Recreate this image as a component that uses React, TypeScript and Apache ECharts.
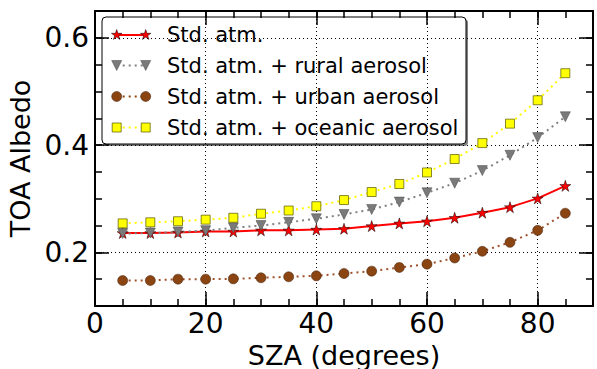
import React, { useEffect, useRef } from "react";
import * as echarts from "echarts";

const xValues = [5, 10, 15, 20, 25, 30, 35, 40, 45, 50, 55, 60, 65, 70, 75, 80, 85];
const stdAtm = [0.236, 0.236, 0.237, 0.239, 0.239, 0.241, 0.241, 0.2425, 0.244, 0.249, 0.254, 0.258, 0.2645, 0.274, 0.2843, 0.3006, 0.324];
const rural = [0.235, 0.236, 0.238, 0.2405, 0.2457, 0.25, 0.256, 0.2626, 0.2707, 0.28, 0.2937, 0.311, 0.329, 0.3524, 0.381, 0.414, 0.4528];
const urban = [0.1475, 0.1475, 0.15, 0.15, 0.1507, 0.1526, 0.1545, 0.1563, 0.1606, 0.165, 0.1719, 0.178, 0.1895, 0.202, 0.2187, 0.241, 0.273];
const oceanic = [0.254, 0.256, 0.258, 0.261, 0.2645, 0.272, 0.278, 0.286, 0.2975, 0.3125, 0.3275, 0.349, 0.374, 0.4037, 0.44, 0.4836, 0.534];
const seriesNames = [
  "Std. atm.",
  "Std. atm. + rural aerosol",
  "Std. atm. + urban aerosol",
  "Std. atm. + oceanic aerosol",
];
const xTickLabels = [0, 20, 40, 60, 80];
const xMajorTicks = [20, 40, 60, 80];
const yTickLabels = [0.2, 0.4, 0.6];

const FONT = "DejaVu Sans";
const STAR =
  "path://M0,-10L2.245,-3.09L9.511,-3.09L3.633,1.18L5.878,8.09L0,3.82L-5.878,8.09L-3.633,1.18L-9.511,-3.09L-2.245,-3.09Z";

const AX = { color: "#000", width: 2 };
const TICK = { color: "#000", width: 1.5 };
const GRID_LINE = { color: "#000", width: 1, type: [1, 3] as any };

function starPoints(cx: number, cy: number, r: number) {
  const pts: number[][] = [];
  for (let i = 0; i < 10; i++) {
    const ang = ((-90 + i * 36) * Math.PI) / 180;
    const rr = i % 2 === 0 ? r : r * 0.382;
    pts.push([cx + rr * Math.cos(ang), cy + rr * Math.sin(ang)]);
  }
  return pts;
}

export default function App() {
  const ref = useRef<HTMLDivElement>(null);
  useEffect(() => {
    if (!ref.current) return;
    const chart = echarts.init(ref.current, null, { renderer: "svg" });

    const minorX = (position: string) => ({
      type: "value",
      position,
      min: 0,
      max: 90,
      interval: 5,
      axisLine: { show: true, onZero: false, lineStyle: AX },
      axisTick: { show: true, inside: true, length: 7, lineStyle: TICK },
      axisLabel: { show: false },
      splitLine: { show: false },
    });
    const majorX = (position: string, labels: boolean) => ({
      type: "value",
      position,
      min: 0,
      max: 90,
      axisLine: { show: false, onZero: false },
      axisTick: { show: true, inside: true, length: 14, customValues: xMajorTicks, lineStyle: TICK },
      axisLabel: labels
        ? {
            show: true,
            customValues: xTickLabels,
            fontSize: 28,
            fontFamily: FONT,
            color: "#000",
            margin: 3,
            formatter: (v: number) => String(Math.round(v)),
          }
        : { show: false },
      splitLine: labels ? { show: true, lineStyle: GRID_LINE } : { show: false },
      name: labels ? "SZA (degrees)" : "",
      nameLocation: "middle",
      nameGap: 27,
      nameTextStyle: { fontSize: 27, fontFamily: FONT, color: "#000", lineHeight: 27 },
    });
    const minorY = (position: string) => ({
      type: "value",
      position,
      min: 0.1,
      max: 0.65,
      interval: 0.05,
      axisLine: { show: true, onZero: false, lineStyle: AX },
      axisTick: { show: true, inside: true, length: 7, lineStyle: TICK },
      axisLabel: { show: false },
      splitLine: { show: false },
    });
    const majorY = (position: string, labels: boolean) => ({
      type: "value",
      position,
      min: 0.1,
      max: 0.65,
      axisLine: { show: false, onZero: false },
      axisTick: { show: true, inside: true, length: 14, customValues: yTickLabels, lineStyle: TICK },
      axisLabel: labels
        ? {
            show: true,
            customValues: yTickLabels,
            fontSize: 28,
            fontFamily: FONT,
            color: "#000",
            margin: 6,
            formatter: (v: number) => v.toFixed(1),
          }
        : { show: false },
      splitLine: labels ? { show: true, lineStyle: GRID_LINE } : { show: false },
      name: labels ? "TOA Albedo" : "",
      nameLocation: "middle",
      nameGap: 55,
      nameRotate: 90,
      nameTextStyle: { fontSize: 27, fontFamily: FONT, color: "#000" },
    });

    const pairs = (ys: number[]) => xValues.map((x, i) => [x, ys[i]]);
    const dotted = [2, 4];

    const legendRows = [35, 65.5, 96.5, 127.5];
    const lx1 = 116.7;
    const lx2 = 145.7;
    const legendChildren: any[] = [
      { type: "rect", shape: { x: 104, y: 19, width: 364, height: 127, r: 4 }, style: { fill: "#808080" } },
      {
        type: "rect",
        shape: { x: 102, y: 17, width: 364, height: 127, r: 4 },
        style: { fill: "#fff", stroke: "#000", lineWidth: 1 },
      },
    ];
    legendChildren.push({
      type: "line",
      shape: { x1: lx1, y1: legendRows[0], x2: lx2, y2: legendRows[0] },
      style: { stroke: "#ff0000", lineWidth: 2 },
    });
    [lx1, lx2].forEach((cx) =>
      legendChildren.push({
        type: "polygon",
        shape: { points: starPoints(cx, legendRows[0], 5.5) },
        style: { fill: "#ff0000", stroke: "#000", lineWidth: 0.5 },
      })
    );
    legendChildren.push({
      type: "line",
      shape: { x1: lx1, y1: legendRows[1], x2: lx2, y2: legendRows[1] },
      style: { stroke: "#808080", lineWidth: 2, lineDash: dotted },
    });
    [lx1, lx2].forEach((cx) =>
      legendChildren.push({
        type: "polygon",
        shape: {
          points: [
            [cx - 5, legendRows[1] - 5],
            [cx + 5, legendRows[1] - 5],
            [cx, legendRows[1] + 5],
          ],
        },
        style: { fill: "#7a7a7a", stroke: "#444", lineWidth: 0.5 },
      })
    );
    legendChildren.push({
      type: "line",
      shape: { x1: lx1, y1: legendRows[2], x2: lx2, y2: legendRows[2] },
      style: { stroke: "#8b4513", lineWidth: 2, lineDash: dotted },
    });
    [lx1, lx2].forEach((cx) =>
      legendChildren.push({
        type: "circle",
        shape: { cx, cy: legendRows[2], r: 5 },
        style: { fill: "#8b4513", stroke: "#3a1a05", lineWidth: 0.5 },
      })
    );
    legendChildren.push({
      type: "line",
      shape: { x1: lx1, y1: legendRows[3], x2: lx2, y2: legendRows[3] },
      style: { stroke: "#ffff00", lineWidth: 2, lineDash: dotted },
    });
    [lx1, lx2].forEach((cx) =>
      legendChildren.push({
        type: "rect",
        shape: { x: cx - 4.5, y: legendRows[3] - 4.5, width: 9, height: 9 },
        style: { fill: "#ffff00", stroke: "#555500", lineWidth: 0.7 },
      })
    );
    seriesNames.forEach((name, i) =>
      legendChildren.push({
        type: "text",
        style: {
          text: name,
          x: 167,
          y: legendRows[i],
          fontSize: 21,
          fontFamily: FONT,
          fill: "#000",
          verticalAlign: "middle",
          textAlign: "left",
        },
      })
    );

    chart.setOption({
      animation: false,
      backgroundColor: "#fff",
      grid: { left: 95, right: 4, top: 11, bottom: 63, containLabel: false, outerBoundsMode: "none" },
      xAxis: [minorX("bottom"), majorX("bottom", true), minorX("top"), majorX("top", false)],
      yAxis: [minorY("left"), majorY("left", true), minorY("right"), majorY("right", false)],
      series: [
        {
          type: "line",
          name: seriesNames[0],
          data: pairs(stdAtm),
          symbol: STAR,
          symbolSize: 11,
          itemStyle: { color: "#ff0000", borderColor: "#000", borderWidth: 0.5 },
          lineStyle: { color: "#ff0000", width: 2 },
        },
        {
          type: "line",
          name: seriesNames[1],
          data: pairs(rural),
          symbol: "triangle",
          symbolRotate: 180,
          symbolSize: 10,
          itemStyle: { color: "#7a7a7a", borderColor: "#444", borderWidth: 0.5 },
          lineStyle: { color: "#808080", width: 2, type: dotted },
        },
        {
          type: "line",
          name: seriesNames[2],
          data: pairs(urban),
          symbol: "circle",
          symbolSize: 10,
          itemStyle: { color: "#8b4513", borderColor: "#3a1a05", borderWidth: 0.5 },
          lineStyle: { color: "#a0522d", width: 2, type: dotted },
        },
        {
          type: "line",
          name: seriesNames[3],
          data: pairs(oceanic),
          symbol: "rect",
          symbolSize: 9,
          itemStyle: { color: "#ffff00", borderColor: "#555500", borderWidth: 0.7 },
          lineStyle: { color: "#ffff00", width: 2, type: dotted },
        },
      ],
      graphic: [{ type: "group", z: 100, children: legendChildren }],
    });
    return () => chart.dispose();
  }, []);
  return (
    <div
      ref={ref}
      style={{ position: "absolute", left: 0, top: 0, width: 597, height: 369 }}
    />
  );
}
